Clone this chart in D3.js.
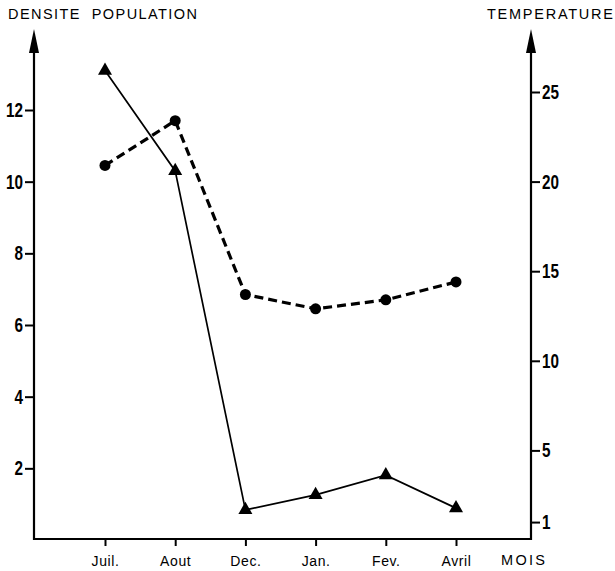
<!DOCTYPE html>
<html>
<head>
<meta charset="utf-8">
<script src="https://cdn.jsdelivr.net/npm/d3@7"></script>
<style>
  html, body { margin: 0; padding: 0; background: #fff; }
  svg { display: block; }
  .num { font-family: "Liberation Sans", Arial, Helvetica, sans-serif; font-weight: bold; }
  .lab { font-family: "Liberation Sans", Arial, Helvetica, sans-serif; white-space: pre; }
</style>
</head>
<body>
<script>
const months = ["Juil.", "Aout", "Dec.", "Jan.", "Fev.", "Avril"];
const density = [13.1, 10.3, 0.84, 1.26, 1.81, 0.89];
const temperature = [20.9, 23.4, 13.7, 12.9, 13.4, 14.4];
const densityTicks = [2, 4, 6, 8, 10, 12];
const tempTicks = [1, 5, 10, 15, 20, 25];

const W = 615, H = 571;
const svg = d3.select("body").append("svg").attr("width", W).attr("height", H);

const x = d3.scalePoint().domain(months).range([105, 456]);
const yL = d3.scaleLinear().domain([0, 12]).range([540, 110]);
const yR = d3.scaleLinear().domain([0, 25]).range([540, 92]);

const leftX = 34, rightX = 531, baseY = 539;

// axis frame lines
svg.append("path")
  .attr("d", `M${leftX},48 V${baseY} H${rightX} V48`)
  .attr("fill", "none").attr("stroke", "#000").attr("stroke-width", 2.2);

// arrowheads
function arrow(cx) {
  svg.append("path")
    .attr("d", `M${cx},29 L${cx - 5},53 L${cx + 5},53 Z`)
    .attr("fill", "#000");
}
arrow(leftX);
arrow(rightX);

function condense(sel) {
  sel.attr("class", "num").attr("font-size", 20).attr("fill", "#000")
    .attr("lengthAdjust", "spacingAndGlyphs")
    .attr("textLength", function () { return this.textContent.length * 8.5; });
}

// left axis
const gL = svg.append("g").attr("transform", `translate(${leftX},0)`)
  .call(d3.axisLeft(yL).tickValues(densityTicks).tickSize(9).tickPadding(2).tickFormat(d3.format("d")));
gL.select(".domain").remove();
gL.selectAll(".tick line").attr("stroke-width", 2);
gL.selectAll(".tick text").call(condense);

// right axis
const gR = svg.append("g").attr("transform", `translate(${rightX},0)`)
  .call(d3.axisRight(yR).tickValues(tempTicks).tickSize(9).tickPadding(2).tickFormat(d3.format("d")));
gR.select(".domain").remove();
gR.selectAll(".tick line").attr("stroke-width", 2);
gR.selectAll(".tick text").call(condense);

// bottom axis
const gB = svg.append("g").attr("transform", `translate(0,${baseY})`)
  .call(d3.axisBottom(x).tickSize(7).tickPadding(10));
gB.select(".domain").remove();
gB.selectAll(".tick line").attr("stroke-width", 2);
gB.selectAll(".tick text").attr("class", "lab").attr("font-size", 14)
  .attr("letter-spacing", "0.6px").attr("fill", "#000");

// titles
svg.append("text").attr("class", "lab").attr("x", 8).attr("y", 19)
  .attr("font-size", 14.5).attr("textLength", 189).attr("lengthAdjust", "spacing")
  .text("DENSITE  POPULATION");
svg.append("text").attr("class", "lab").attr("x", 487).attr("y", 19)
  .attr("font-size", 14.5).attr("textLength", 126).attr("lengthAdjust", "spacing")
  .text("TEMPERATURE");
svg.append("text").attr("class", "lab").attr("x", 501).attr("y", 565)
  .attr("font-size", 14.5).attr("textLength", 44).attr("lengthAdjust", "spacing")
  .text("MOIS");

// density (solid, triangles)
const dData = months.map((m, i) => ({ m, v: density[i] }));
svg.append("path").datum(dData)
  .attr("d", d3.line().x(d => x(d.m)).y(d => yL(d.v)))
  .attr("fill", "none").attr("stroke", "#000").attr("stroke-width", 1.7);
svg.selectAll(".tri").data(dData).enter().append("path")
  .attr("class", "tri")
  .attr("transform", d => `translate(${x(d.m)},${yL(d.v)})`)
  .attr("d", d3.symbol(d3.symbolTriangle, 85))
  .attr("fill", "#000");

// temperature (dashed, circles)
const tData = months.map((m, i) => ({ m, v: temperature[i] }));
svg.append("path").datum(tData)
  .attr("d", d3.line().x(d => x(d.m)).y(d => yR(d.v)))
  .attr("fill", "none").attr("stroke", "#000").attr("stroke-width", 3.2)
  .attr("stroke-dasharray", "9,5");
svg.selectAll(".dot").data(tData).enter().append("circle")
  .attr("class", "dot")
  .attr("cx", d => x(d.m)).attr("cy", d => yR(d.v)).attr("r", 5.5)
  .attr("fill", "#000");
</script>
</body>
</html>
